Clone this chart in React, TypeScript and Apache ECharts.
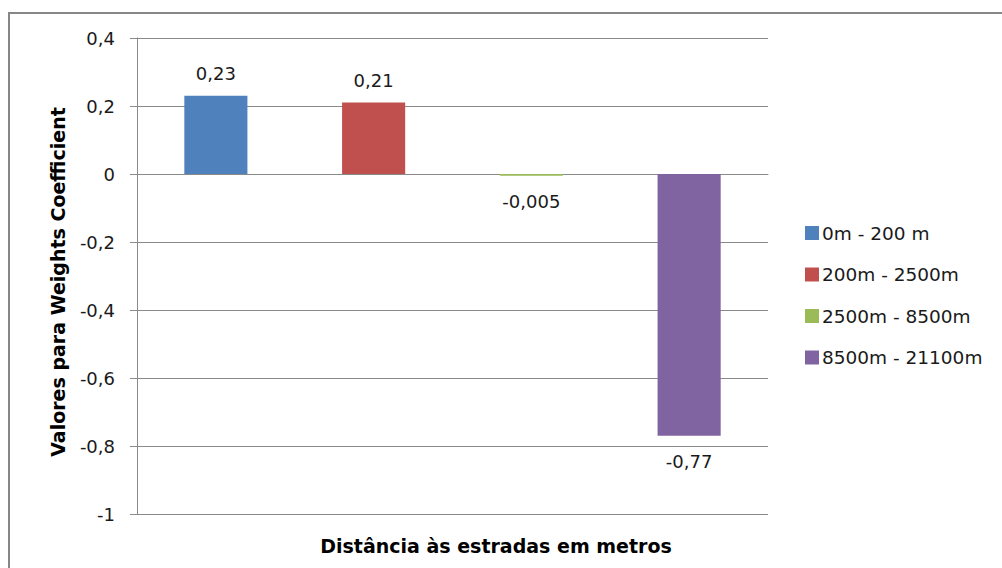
import React, { useEffect, useRef } from "react";
import * as echarts from "echarts";

const seriesNames = ["0m - 200 m", "200m - 2500m", "2500m - 8500m", "8500m - 21100m"];
const weightValues = [0.23, 0.21, -0.005, -0.77];
const seriesColors = ["#4F81BD", "#C0504D", "#9BBB59", "#8064A2"];
const yTitle = "Valores para Weights Coefficient";
const xTitle = "Distância às estradas em metros";

const FONT = "'DejaVu Sans', sans-serif";

const fmt = (v: number) => String(Math.round(v * 1000) / 1000).replace(".", ",");

export default function App() {
  const ref = useRef<HTMLDivElement>(null);

  useEffect(() => {
    if (!ref.current) return;
    const chart = echarts.init(ref.current, undefined, { renderer: "svg" });

    const series = seriesNames.map((name, i) => ({
      name,
      type: "bar" as const,
      stack: "all",
      barWidth: "40%",
      itemStyle: { color: seriesColors[i] },
      label: {
        show: true,
        position: weightValues[i] >= 0 ? "top" : "bottom",
        distance: weightValues[i] >= 0 ? 13 : 17,
        formatter: (p: any) => fmt(p.value),
        fontFamily: FONT,
        fontSize: 18,
        color: "#1a1a1a",
      },
      data: seriesNames.map((_, j) => (j === i ? weightValues[i] : "-")),
    }));

    chart.setOption({
      animation: false,
      backgroundColor: "#fff",
      textStyle: { fontFamily: FONT },
      grid: { left: 137, right: 234, top: 38, bottom: 54, containLabel: false },
      legend: {
        orient: "vertical",
        left: 805,
        top: 223,
        padding: 0,
        itemWidth: 14,
        itemHeight: 14,
        itemGap: 21.5,
        icon: "rect",
        data: seriesNames,
        textStyle: { fontFamily: FONT, fontSize: 18.5, color: "#1a1a1a", lineHeight: 20, padding: [0, 0, 0, -2] },
      },
      xAxis: {
        type: "category",
        data: seriesNames,
        axisLine: { show: true, onZero: true, lineStyle: { color: "#8a8a8a", width: 1 } },
        axisTick: { show: false },
        axisLabel: { show: false },
        splitLine: { show: false },
      },
      yAxis: {
        type: "value",
        min: -1,
        max: 0.4,
        interval: 0.2,
        axisLine: { show: true, lineStyle: { color: "#8a8a8a", width: 1 } },
        axisTick: { show: true, length: 7, lineStyle: { color: "#8a8a8a" } },
        axisLabel: {
          formatter: (v: number) => fmt(Math.round(v * 10) / 10),
          margin: 22,
          fontFamily: FONT,
          fontSize: 18,
          color: "#1a1a1a",
        },
        splitLine: { show: true, lineStyle: { color: "#8a8a8a", width: 1 } },
      },
      graphic: [
        {
          type: "rect",
          shape: { x: 9, y: 13, width: 1100, height: 700 },
          style: { fill: "none", stroke: "#878787", lineWidth: 2 },
          silent: true,
        },
        {
          type: "text",
          x: 58,
          y: 282,
          rotation: Math.PI / 2,
          style: {
            text: yTitle,
            fontFamily: FONT,
            fontSize: 19,
            fontWeight: "bold",
            fill: "#000",
            align: "center",
            verticalAlign: "middle",
          },
        },
        {
          type: "text",
          x: 496,
          y: 546,
          style: {
            text: xTitle,
            fontFamily: FONT,
            fontSize: 19,
            fontWeight: "bold",
            fill: "#000",
            align: "center",
            verticalAlign: "middle",
          },
        },
      ],
      series,
    });

    return () => chart.dispose();
  }, []);

  return (
    <div
      ref={ref}
      style={{ position: "fixed", left: 0, top: 0, width: 1002, height: 568 }}
    />
  );
}
